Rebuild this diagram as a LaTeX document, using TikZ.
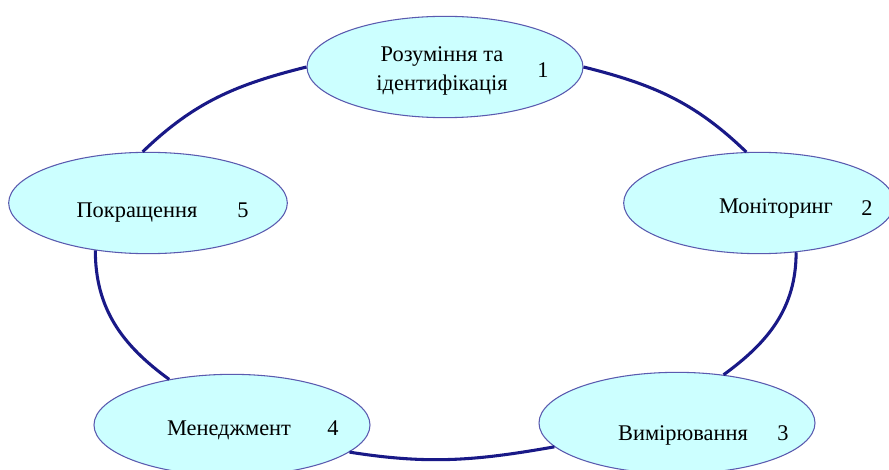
\documentclass[tikz,border=0pt]{standalone}
\usepackage{fontspec}
\setmainfont{Liberation Serif}
\usetikzlibrary{shapes.geometric}
\definecolor{stagefill}{RGB}{204,255,255}
\definecolor{stageedge}{RGB}{90,90,175}
\definecolor{ringblue}{RGB}{25,25,135}
\tikzset{
    stage/.style={
        ellipse,
        draw=stageedge,
        fill=stagefill,
        line width=0.8pt,
        minimum width=207pt,
        minimum height=76pt,
        inner sep=0pt
    },
    stagetext/.style={
        anchor=base,
        inner sep=0pt,
        font=\fontsize{16.8}{21.5}\selectfont
    },
    ring/.style={
        draw=ringblue,
        line width=2.3pt
    }
}

\begin{document}
\begin{tikzpicture}[x=0.75pt, y=-0.75pt]
    \useasboundingbox (0, 0) rectangle (889, 470);
    % Stages:
    \node [stage] (s1) at (445, 67) {};
    \node [stage, minimum width=203pt] (s2) at (759, 203) {};
    \node [stage] (s3) at (677, 423) {};
    \node [stage] (s4) at (232, 425) {};
    \node [stage, minimum width=209pt] (s5) at (148, 203) {};
    % Texts:
    \node [stagetext, anchor=center, align=center] (t1) at (442, 71) {Розуміння та\\ідентифікація};
    \node [stagetext] (n1) at (543, 78) {1};
    \node [stagetext] (t2) at (776, 214) {Моніторинг};
    \node [stagetext] (n2) at (867, 216) {2};
    \node [stagetext] (t3) at (683, 440) {Вимірювання};
    \node [stagetext] (n3) at (783, 440) {3};
    \node [stagetext] (t4) at (229, 435) {Менеджмент};
    \node [stagetext] (n4) at (333, 435) {4};
    \node [stagetext] (t5) at (137, 218) {Покращення};
    \node [stagetext] (n5) at (243, 218) {5};
    % Ring:
    \draw [ring] (s1.west) to [out=194, in=44] (s5.96);
    \draw [ring] (s5.222) to [out=270, in=144] (s4.144);
    \draw [ring] (s4.347) to [out=-9, in=190] (s3.191);
    \draw [ring] (s3.46) to [out=36, in=270] (s2.307);
    \draw [ring] (s2.104) to [out=136, in=-14] (s1.east);
\end{tikzpicture}
\end{document}
